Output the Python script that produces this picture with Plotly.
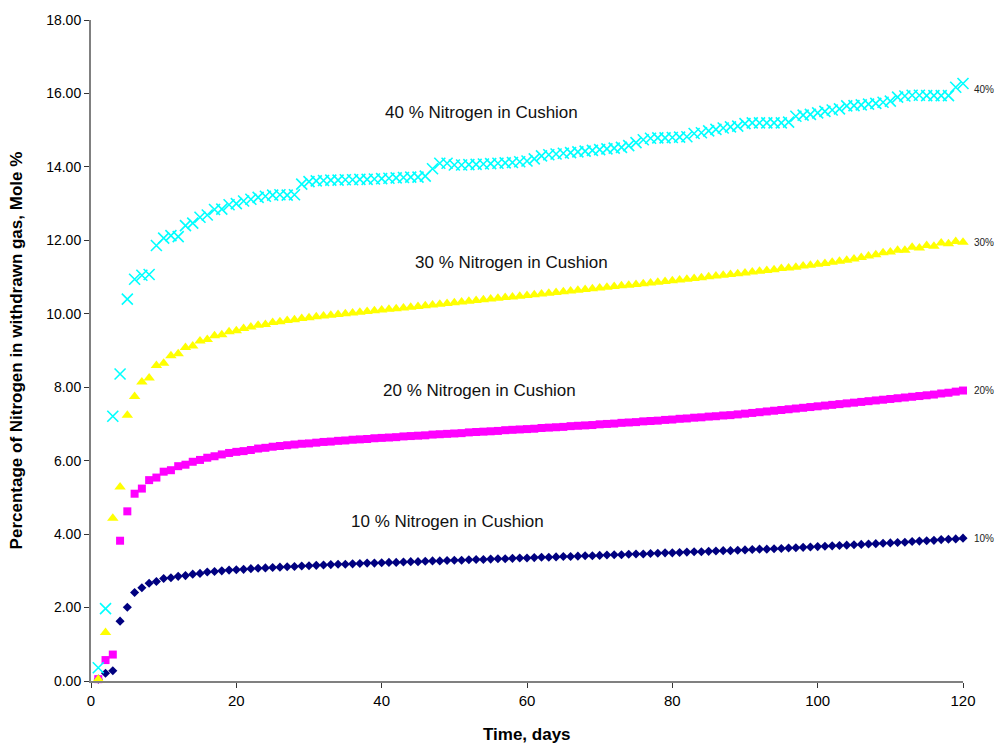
import plotly.graph_objects as go

days = list(range(1, 121))

n2_10 = [
    0.05, 0.21, 0.28, 1.63, 2.01, 2.41, 2.54, 2.66, 2.71, 2.79,
    2.81, 2.85, 2.87, 2.91, 2.93, 2.97, 2.98, 3.00, 3.02, 3.03,
    3.04, 3.06, 3.07, 3.08, 3.09, 3.10, 3.11, 3.12, 3.13, 3.14,
    3.15, 3.16, 3.17, 3.18, 3.18, 3.19, 3.20, 3.21, 3.21, 3.22,
    3.23, 3.23, 3.24, 3.25, 3.25, 3.26, 3.27, 3.27, 3.28, 3.29,
    3.29, 3.30, 3.31, 3.31, 3.32, 3.33, 3.33, 3.34, 3.35, 3.35,
    3.36, 3.37, 3.37, 3.38, 3.39, 3.39, 3.40, 3.41, 3.41, 3.42,
    3.43, 3.44, 3.44, 3.45, 3.46, 3.46, 3.47, 3.48, 3.49, 3.49,
    3.50, 3.51, 3.52, 3.52, 3.53, 3.54, 3.55, 3.55, 3.56, 3.57,
    3.58, 3.59, 3.59, 3.60, 3.61, 3.62, 3.63, 3.64, 3.65, 3.66,
    3.67, 3.68, 3.69, 3.70, 3.71, 3.72, 3.73, 3.74, 3.75, 3.76,
    3.77, 3.78, 3.80, 3.81, 3.82, 3.83, 3.85, 3.86, 3.87, 3.89,
]

n2_20 = [
    0.05, 0.57, 0.72, 3.82, 4.62, 5.10, 5.24, 5.47, 5.54, 5.70,
    5.74, 5.85, 5.89, 5.97, 6.02, 6.08, 6.12, 6.17, 6.21, 6.24,
    6.26, 6.29, 6.33, 6.35, 6.38, 6.40, 6.42, 6.44, 6.46, 6.47,
    6.49, 6.51, 6.52, 6.54, 6.55, 6.57, 6.58, 6.59, 6.61, 6.62,
    6.63, 6.64, 6.66, 6.67, 6.68, 6.69, 6.71, 6.72, 6.73, 6.74,
    6.75, 6.77, 6.78, 6.79, 6.80, 6.81, 6.83, 6.84, 6.85, 6.86,
    6.87, 6.89, 6.90, 6.91, 6.92, 6.94, 6.95, 6.96, 6.97, 6.99,
    7.00, 7.01, 7.03, 7.04, 7.05, 7.07, 7.08, 7.09, 7.11, 7.12,
    7.14, 7.15, 7.17, 7.18, 7.20, 7.21, 7.23, 7.24, 7.26, 7.28,
    7.30, 7.32, 7.34, 7.36, 7.38, 7.40, 7.42, 7.44, 7.46, 7.48,
    7.50, 7.52, 7.54, 7.56, 7.58, 7.60, 7.62, 7.64, 7.66, 7.68,
    7.70, 7.72, 7.74, 7.76, 7.78, 7.80, 7.83, 7.85, 7.88, 7.91,
]

n2_30 = [
    0.05, 1.32, 4.43, 5.28, 7.24, 7.75, 8.14, 8.25, 8.59, 8.65,
    8.86, 8.91, 9.08, 9.12, 9.26, 9.30, 9.40, 9.43, 9.51, 9.54,
    9.60, 9.64, 9.69, 9.71, 9.76, 9.78, 9.82, 9.84, 9.87, 9.89,
    9.92, 9.94, 9.96, 9.98, 10.00, 10.02, 10.04, 10.06, 10.08, 10.10,
    10.12, 10.14, 10.16, 10.18, 10.20, 10.22, 10.24, 10.26, 10.28, 10.30,
    10.32, 10.34, 10.36, 10.38, 10.40, 10.42, 10.44, 10.46, 10.48, 10.50,
    10.52, 10.54, 10.56, 10.58, 10.60, 10.62, 10.64, 10.66, 10.68, 10.70,
    10.72, 10.74, 10.76, 10.78, 10.80, 10.82, 10.84, 10.86, 10.88, 10.90,
    10.92, 10.94, 10.96, 10.98, 11.01, 11.03, 11.05, 11.07, 11.09, 11.11,
    11.14, 11.16, 11.18, 11.20, 11.23, 11.25, 11.27, 11.30, 11.32, 11.35,
    11.37, 11.40, 11.43, 11.46, 11.49, 11.53, 11.57, 11.61, 11.66, 11.68,
    11.73, 11.73, 11.81, 11.79, 11.86, 11.84, 11.93, 11.91, 11.97, 11.95,
]

n2_40 = [
    0.36, 1.97, 7.21, 8.36, 10.40, 10.94, 11.05, 11.07, 11.86, 12.06,
    12.13, 12.10, 12.40, 12.47, 12.63, 12.69, 12.84, 12.85, 12.97, 13.00,
    13.07, 13.12, 13.17, 13.20, 13.23, 13.24, 13.23, 13.24, 13.53, 13.60,
    13.62, 13.63, 13.64, 13.64, 13.65, 13.65, 13.66, 13.66, 13.67, 13.68,
    13.69, 13.70, 13.71, 13.72, 13.72, 13.75, 13.95, 14.10, 14.10, 14.05,
    14.05, 14.06, 14.07, 14.08, 14.09, 14.10, 14.11, 14.12, 14.14, 14.16,
    14.22, 14.30, 14.33, 14.35, 14.37, 14.39, 14.41, 14.43, 14.45, 14.47,
    14.49, 14.51, 14.53, 14.58, 14.66, 14.74, 14.78, 14.79, 14.79, 14.80,
    14.81, 14.82, 14.91, 14.93, 14.98, 15.02, 15.06, 15.09, 15.11, 15.18,
    15.20, 15.20, 15.20, 15.20, 15.20, 15.22, 15.38, 15.41, 15.43, 15.47,
    15.51, 15.55, 15.58, 15.66, 15.67, 15.69, 15.71, 15.73, 15.76, 15.79,
    15.90, 15.93, 15.95, 15.95, 15.94, 15.94, 15.94, 15.94, 16.17, 16.27,
]

series_names = ["10%", "20%", "30%", "40%"]
series_values = [n2_10, n2_20, n2_30, n2_40]
series_labels = [
    "10 % Nitrogen in Cushion",
    "20 % Nitrogen in Cushion",
    "30 % Nitrogen in Cushion",
    "40 % Nitrogen in Cushion",
]

y_ticks = [0, 2, 4, 6, 8, 10, 12, 14, 16, 18]
x_ticks = [0, 20, 40, 60, 80, 100, 120]

marker_styles = [
    dict(symbol="diamond", size=7, color="#000080"),
    dict(symbol="square", size=8, color="#FF00FF"),
    dict(symbol="triangle-up", size=10, color="#FFFF00"),
    dict(symbol="x-thin", size=11, color="#00FFFF",
         line=dict(color="#00FFFF", width=1.6)),
]

# caption positions for each curve (data coordinates)
caption_pos = [(49.0, 4.35), (53.4, 7.90), (57.8, 11.40), (53.8, 15.47)]
end_label_shift = [0, 0, 0, -6]

FONT = "Liberation Sans, Arial, sans-serif"

fig = go.Figure()
for name, vals, mk in zip(series_names, series_values, marker_styles):
    fig.add_trace(go.Scatter(
        x=days, y=vals, mode="markers", name=name,
        marker=mk, showlegend=False, cliponaxis=False,
    ))

annotations = []
for text, (cx, cy) in zip(series_labels, caption_pos):
    annotations.append(dict(
        x=cx, y=cy, xref="x", yref="y", text=text, showarrow=False,
        font=dict(family=FONT, size=17, color="#111111"),
        xanchor="center", yanchor="middle",
    ))
for name, vals, ys in zip(series_names, series_values, end_label_shift):
    annotations.append(dict(
        x=days[-1], y=vals[-1], xref="x", yref="y", text=name,
        showarrow=False, xanchor="left", yanchor="middle",
        xshift=9, yshift=ys,
        font=dict(family=FONT, size=10, color="#222222"),
    ))

# axis titles
annotations.append(dict(
    x=-0.085, y=0.5, xref="paper", yref="paper",
    text="<b>Percentage of Nitrogen in withdrawn gas, Mole %</b>",
    textangle=-90, showarrow=False, xanchor="center", yanchor="middle",
    font=dict(family=FONT, size=17, color="#000000"),
))
annotations.append(dict(
    x=0.5, y=-0.081, xref="paper", yref="paper",
    text="<b>Time, days</b>", showarrow=False,
    xanchor="center", yanchor="middle",
    font=dict(family=FONT, size=17, color="#000000"),
))

fig.update_layout(
    width=995, height=747,
    margin=dict(l=91, r=32, t=13, b=66),
    paper_bgcolor="white", plot_bgcolor="white",
    font=dict(family=FONT, size=14, color="#000000"),
    annotations=annotations,
    xaxis=dict(
        range=[0, 120], tickvals=x_ticks, ticktext=[str(v) for v in x_ticks],
        showgrid=False, zeroline=False, showline=True,
        linecolor="#808080", linewidth=2, ticks="outside", ticklen=5,
        tickcolor="#333333", tickfont=dict(family=FONT, size=15),
        fixedrange=True,
    ),
    yaxis=dict(
        range=[0, 18], tickvals=y_ticks,
        ticktext=[f"{v:.2f}" for v in y_ticks],
        showgrid=False, zeroline=False, showline=True,
        linecolor="#808080", linewidth=2, ticks="outside", ticklen=5,
        tickcolor="#333333", tickfont=dict(family=FONT, size=14),
        fixedrange=True,
    ),
)

fig.write_html("out.html")
